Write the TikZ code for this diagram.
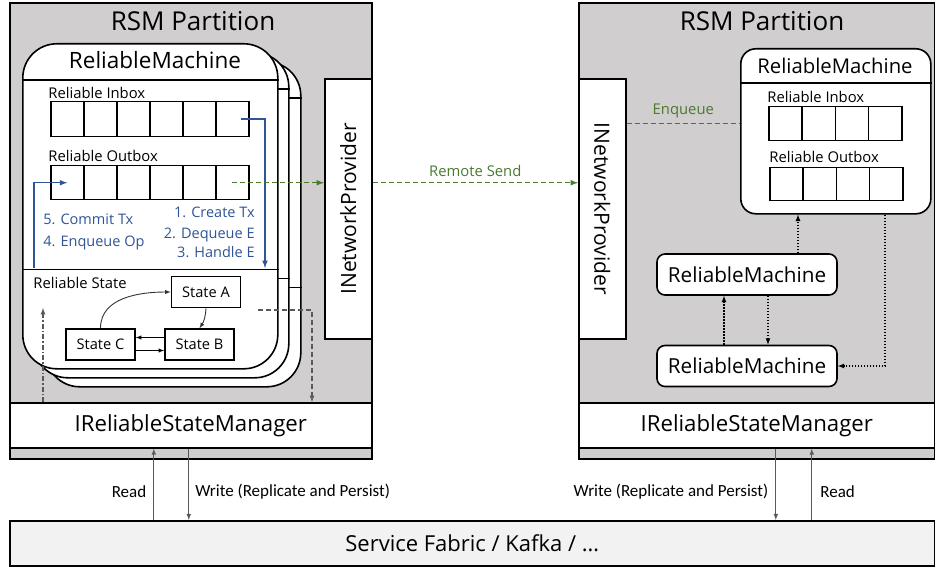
\documentclass[tikz,border=0pt]{standalone}
\usepackage{fontspec}
\setmainfont{Open Sans}
\newfontfamily\narrowfont{Carlito}
\usetikzlibrary{arrows,positioning}

\definecolor{partgray}{HTML}{D0CECE}
\definecolor{fabricgray}{HTML}{F2F2F2}
\definecolor{txblue}{HTML}{2F5597}
\definecolor{sendgreen}{HTML}{4A7A2E}
\definecolor{linkgray}{HTML}{595959}

\begin{document}
\begin{tikzpicture}[x=1pt, y=-1pt, thick, >=latex]
    \tikzstyle{partition} = [rectangle, draw, line width=2pt, fill=partgray, anchor=north west, inner sep=0pt]
    \tikzstyle{plainbox} = [rectangle, draw, line width=1.6pt, fill=white, anchor=north west, inner sep=0pt]
    \tikzstyle{card} = [plainbox, rounded corners=34pt, minimum width=255pt, minimum height=325pt]
    \tikzstyle{cell} = [plainbox, line width=1.5pt, minimum width=33pt, minimum height=35pt]
    \tikzstyle{machine} = [plainbox, anchor=center, rounded corners=8pt, minimum width=180pt, minimum height=41pt, font=\fontsize{20.7}{24}\selectfont]
    \tikzstyle{statebox} = [plainbox, anchor=center, minimum width=69pt, minimum height=31pt, font=\fontsize{14.6}{17}\selectfont]
    \tikzstyle{caption} = [inner sep=0pt, font=\fontsize{14.8}{17}\selectfont]
    \tikzstyle{txlabel} = [inner sep=0pt, text=txblue, font=\fontsize{14.5}{17}\selectfont]
    \tikzstyle{iolabel} = [inner sep=0pt, font=\narrowfont\fontsize{17}{20}\selectfont]
    \tikzstyle{txarrow} = [->, >=latex, draw=txblue, line width=1.5pt]
    \tikzstyle{sendarrow} = [->, >=latex, draw=sendgreen, line width=1.5pt, dash pattern=on 5pt off 3pt]
    \tikzstyle{grayarrow} = [->, >=latex, draw=linkgray, line width=1.2pt]
    \tikzstyle{dotarrow} = [->, >=latex, draw=black, line width=1.2pt, dash pattern=on 1.5pt off 1.5pt]
    \tikzstyle{ioarrow} = [->, >=latex, draw=linkgray, line width=1.1pt]

    \useasboundingbox (0,0) rectangle (935,567);

    % the two partitions
    \node [partition, minimum width=362pt, minimum height=456pt] (lpart) at (9,2) {};
    \node [partition, minimum width=356pt, minimum height=456pt] (rpart) at (578,2) {};
    \node [font=\fontsize{26}{30}\selectfont, anchor=base] (ltitle) at (193,31) {RSM Partition};
    \node [font=\fontsize{26}{30}\selectfont, anchor=base] (rtitle) at (762,31) {RSM Partition};

    \node [plainbox, minimum width=362pt, minimum height=45pt, font=\fontsize{22.2}{26}\selectfont] (lism) at (9,402) {IReliableStateManager};
    \node [plainbox, minimum width=356pt, minimum height=45pt, font=\fontsize{22.2}{26}\selectfont] (rism) at (578,402) {IReliableStateManager};

    \node [plainbox, minimum width=47pt, minimum height=260pt] (lnet) at (324,78) {};
    \node [rotate=90, font=\fontsize{21}{25}\selectfont] at (lnet.center) {INetworkProvider};
    \node [plainbox, minimum width=47pt, minimum height=260pt] (rnet) at (578,78) {};
    \node [rotate=-90, font=\fontsize{21}{25}\selectfont] at (rnet.center) {INetworkProvider};

    \node [plainbox, fill=fabricgray, minimum width=925pt, minimum height=45pt, font=\fontsize{22}{26}\selectfont] (sf) at (9,520) {Service Fabric / Kafka / \dots};

    % stacked machines on the left
    \foreach \c/\dx/\dy in {3/23/18, 2/11/9, 1/0/0} {
        \node [card] (card\c) at ({22+\dx},{43+\dy}) {};
        \draw [line width=1.6pt] ([yshift=-37pt]card\c.north west) -- ([yshift=-37pt]card\c.north east);
        \draw [line width=1.6pt] ([yshift=100pt]card\c.south west) -- ([yshift=100pt]card\c.south east);
    }
    \node [font=\fontsize{22.5}{26}\selectfont, anchor=base] (lrmtitle) at (155,69) {ReliableMachine};

    \node [caption, anchor=base west] at (48,99) {Reliable Inbox};
    \node [caption, anchor=base west] at (48,162) {Reliable Outbox};
    \foreach \i in {1,...,6} {
        \node [cell] (lin\i) at ({50+33*(\i-1)},101) {};
        \node [cell, minimum height=34pt] (lout\i) at ({50+33*(\i-1)},165) {};
    }

    \node [txlabel, anchor=base west] at (43,225) {5. Commit Tx};
    \node [txlabel, anchor=base west] at (43,247) {4. Enqueue Op};
    \node [txlabel, anchor=base east] at (255,218) {1. Create Tx};
    \node [txlabel, anchor=base east] at (255,238) {2. Dequeue E};
    \node [txlabel, anchor=base east] at (255,257) {3. Handle E};

    \coordinate (dequeueEnd) at (265,268);
    \coordinate (commitStart) at (34,268);
    \draw [txarrow] ([xshift=9pt]lin6.center) -| (dequeueEnd);
    \draw [txarrow] (commitStart) |- (lout1.center);

    % reliable state
    \node [caption, anchor=base west] at (33,288) {Reliable State};
    \node [statebox] (stA) at (206,292) {State A};
    \node [statebox] (stB) at (199.5,344.5) {State B};
    \node [statebox] (stC) at (100.5,344.5) {State C};
    \draw [->, >=latex, line width=0.9pt, draw=black!80] (stC.north) to [out=90, in=180] (stA.west);
    \draw [->, >=latex, line width=0.9pt, draw=black!80] (stA.south) to [bend left=15] (stB.north);
    \draw [->, >=latex, line width=0.9pt] ([yshift=7pt]stB.west) -- ([yshift=7pt]stC.east);
    \draw [->, >=latex, line width=0.9pt] ([yshift=-6pt]stC.east) -- ([yshift=-6pt]stB.west);

    \coordinate (stateRead) at (43,308);
    \coordinate (stateWrite) at (258,310);
    \coordinate (writeTurn) at (312,310);
    \draw [grayarrow, dash pattern=on 5pt off 2pt on 1.5pt off 2pt] (lism.north -| stateRead) -- (stateRead);
    \draw [grayarrow, dash pattern=on 5pt off 3pt] (stateWrite) -- (writeTurn) -- (writeTurn |- lism.north);

    % machines on the right
    \node [plainbox, rounded corners=15pt, minimum width=190pt, minimum height=165pt] (rrm) at (740,48) {};
    \draw [line width=1.6pt] ([yshift=-35pt]rrm.north west) -- ([yshift=-35pt]rrm.north east);
    \node [font=\fontsize{20.3}{24}\selectfont, anchor=base] (rrmtitle) at (835,74) {ReliableMachine};
    \node [caption, anchor=base west] at (767,103) {Reliable Inbox};
    \node [caption, anchor=base west] at (769,163) {Reliable Outbox};
    \foreach \i in {1,...,4} {
        \node [cell, minimum width=33.25pt, minimum height=34pt] (rin\i) at ({768+33.25*(\i-1)},106) {};
        \node [cell, minimum width=33.25pt, minimum height=33pt] (rout\i) at ({769+33.25*(\i-1)},167) {};
    }
    \node [machine] (rm1) at (747,274.5) {ReliableMachine};
    \node [machine] (rm2) at (747,366) {ReliableMachine};

    \draw [dotarrow] ([xshift=51pt]rm1.north) -- ([xshift=51pt]rm1.north |- rrm.south);
    \draw [dotarrow] ([xshift=138pt]rm1.north |- rrm.south) |- (rm2.east);
    \draw [dotarrow] ([xshift=-23pt]rm2.north) -- ([xshift=-23pt]rm1.south);
    \draw [dotarrow] ([xshift=21pt]rm1.south) -- ([xshift=21pt]rm2.north);

    % messages
    \draw [sendarrow] (lout6.center) -- (lout6.center -| lnet.west);
    \draw [sendarrow] (lnet.east |- lout6.center) -- node [caption, text=sendgreen, above=5pt] {Remote Send} (rnet.west |- lout6.center);
    \draw [sendarrow, -] (rnet.east |- rin1.center) -- node [caption, text=sendgreen, above=5pt] {Enqueue} (rin1.center -| rrm.west);

    % storage
    \draw [ioarrow] ([xshift=-37pt]lism.south |- sf.north) -- node [iolabel, pos=0.4, left=7pt] {Read} ([xshift=-37pt]lism.south);
    \draw [ioarrow] ([xshift=-2pt]lism.south) -- node [iolabel, pos=0.6, right=6pt] {Write (Replicate and Persist)} ([xshift=-2pt]lism.south |- sf.north);
    \draw [ioarrow] ([xshift=19pt]rism.south) -- node [iolabel, pos=0.6, left=7pt] {Write (Replicate and Persist)} ([xshift=19pt]rism.south |- sf.north);
    \draw [ioarrow] ([xshift=55pt]rism.south |- sf.north) -- node [iolabel, pos=0.4, right=8pt] {Read} ([xshift=55pt]rism.south);
\end{tikzpicture}
\end{document}
